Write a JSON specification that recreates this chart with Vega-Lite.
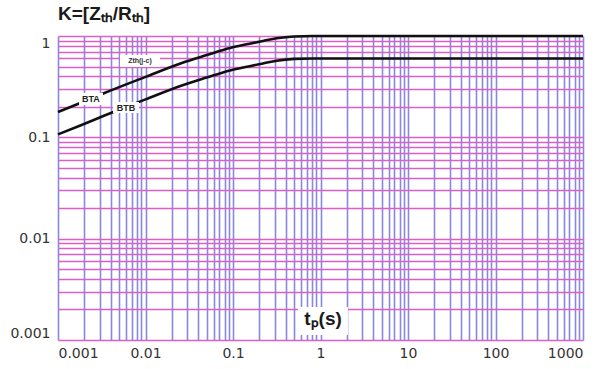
{
  "$schema": "https://vega.github.io/schema/vega-lite/v6.json",
  "width": 525,
  "height": 304,
  "autosize": {"type": "none"},
  "padding": {"left": 58, "top": 36, "right": 12, "bottom": 29},
  "background": "white",
  "config": {"view": {"stroke": null}, "font": "Liberation Sans"},
  "title": {
    "text": "K=[Zₜₕ/Rₜₕ]",
    "anchor": "start",
    "frame": "group",
    "fontSize": 19,
    "fontWeight": "bold",
    "font": "Liberation Sans",
    "color": "#1a1a1a",
    "offset": 7
  },
  "datasets": {
    "curves": [
      {"series": "BTA", "t": 0.001, "K": 0.178},
      {"series": "BTA", "t": 0.0018, "K": 0.218},
      {"series": "BTA", "t": 0.0034, "K": 0.274},
      {"series": "BTA", "t": 0.01, "K": 0.395},
      {"series": "BTA", "t": 0.026, "K": 0.542},
      {"series": "BTA", "t": 0.05, "K": 0.648},
      {"series": "BTA", "t": 0.0925, "K": 0.762},
      {"series": "BTA", "t": 0.15, "K": 0.835},
      {"series": "BTA", "t": 0.22, "K": 0.893},
      {"series": "BTA", "t": 0.316, "K": 0.95},
      {"series": "BTA", "t": 0.5, "K": 0.99},
      {"series": "BTA", "t": 0.8, "K": 1.0},
      {"series": "BTA", "t": 1000, "K": 1.0},
      {"series": "BTB", "t": 0.001, "K": 0.107},
      {"series": "BTB", "t": 0.0018, "K": 0.131},
      {"series": "BTB", "t": 0.0034, "K": 0.164},
      {"series": "BTB", "t": 0.01, "K": 0.237},
      {"series": "BTB", "t": 0.026, "K": 0.325},
      {"series": "BTB", "t": 0.05, "K": 0.389},
      {"series": "BTB", "t": 0.0925, "K": 0.457},
      {"series": "BTB", "t": 0.15, "K": 0.501},
      {"series": "BTB", "t": 0.22, "K": 0.536},
      {"series": "BTB", "t": 0.316, "K": 0.57},
      {"series": "BTB", "t": 0.5, "K": 0.594},
      {"series": "BTB", "t": 0.8, "K": 0.6},
      {"series": "BTB", "t": 1000, "K": 0.6}
    ],
    "boxes": [
      {"name": "BTA", "t1": 0.00174, "t2": 0.00327, "k1": 0.2085, "k2": 0.274},
      {"name": "BTB", "t1": 0.00425, "t2": 0.00843, "k1": 0.174, "k2": 0.2233},
      {"name": "Zth", "t1": 0.00511, "t2": 0.01465, "k1": 0.494, "k2": 0.649},
      {"name": "tp", "t1": 0.553, "t2": 2.06, "k1": 0.00112, "k2": 0.00212}
    ],
    "small": [
      {"label": "BTA", "t": 0.00238, "K": 0.239},
      {"label": "BTB", "t": 0.00598, "K": 0.195}
    ],
    "tiny": [
      {"label": "Zth(j-c)", "t": 0.00865, "K": 0.566}
    ],
    "big": [
      {"label": "tₚ(s)", "t": 1.07, "K": 0.00162}
    ]
  },
  "layer": [
    {
      "data": {"name": "curves"},
      "mark": {"type": "line", "interpolate": "monotone", "strokeWidth": 2.6, "color": "#111111"},
      "encoding": {
        "x": {
          "field": "t",
          "type": "quantitative",
          "scale": {"type": "log", "domain": [0.001, 1000], "nice": false},
          "axis": {
            "title": null,
            "values": [0.001,0.002,0.003,0.004,0.005,0.006,0.007,0.008,0.009,0.01,0.02,0.03,0.04,0.05,0.06,0.07,0.08,0.09,0.1,0.2,0.3,0.4,0.5,0.6,0.7,0.8,0.9,1,2,3,4,5,6,7,8,9,10,20,30,40,50,60,70,80,90,100,200,300,400,500,600,700,800,900,1000],
            "labelExpr": "abs(log(datum.value)/LN10 - round(log(datum.value)/LN10)) < 0.001 ? format(datum.value, '~g') : ''",
            "grid": true,
            "gridColor": "#8a88dc",
            "gridWidth": 1.6,
            "ticks": false,
            "domain": false,
            "labelFlush": true,
            "labelOverlap": false,
            "labelPadding": 6,
            "labelFontSize": 14,
            "labelFont": "DejaVu Sans",
            "labelColor": "#333333"
          }
        },
        "y": {
          "field": "K",
          "type": "quantitative",
          "scale": {"type": "log", "domain": [0.001, 1], "nice": false},
          "axis": {
            "title": null,
            "values": [0.001,0.002,0.003,0.004,0.005,0.006,0.007,0.008,0.009,0.01,0.02,0.03,0.04,0.05,0.06,0.07,0.08,0.09,0.1,0.2,0.3,0.4,0.5,0.6,0.7,0.8,0.9,1],
            "labelExpr": "abs(log(datum.value)/LN10 - round(log(datum.value)/LN10)) < 0.001 ? format(datum.value, '~g') : ''",
            "grid": true,
            "gridColor": "#dc5ec8",
            "gridWidth": 1.6,
            "ticks": false,
            "domain": false,
            "labelFlush": true,
            "labelOverlap": false,
            "labelPadding": 8,
            "labelFontSize": 14,
            "labelFont": "DejaVu Sans",
            "labelColor": "#333333"
          }
        },
        "detail": {"field": "series"}
      }
    },
    {
      "data": {"name": "boxes"},
      "mark": {"type": "rect", "color": "white", "opacity": 1},
      "encoding": {
        "x": {"field": "t1", "type": "quantitative", "scale": {"type": "log"}},
        "x2": {"field": "t2"},
        "y": {"field": "k1", "type": "quantitative", "scale": {"type": "log"}},
        "y2": {"field": "k2"}
      }
    },
    {
      "data": {"name": "small"},
      "mark": {"type": "text", "fontSize": 9, "fontWeight": "bold", "color": "#222222"},
      "encoding": {
        "x": {"field": "t", "type": "quantitative", "scale": {"type": "log"}},
        "y": {"field": "K", "type": "quantitative", "scale": {"type": "log"}},
        "text": {"field": "label"}
      }
    },
    {
      "data": {"name": "tiny"},
      "mark": {"type": "text", "fontSize": 7, "fontWeight": "bold", "color": "#333333"},
      "encoding": {
        "x": {"field": "t", "type": "quantitative", "scale": {"type": "log"}},
        "y": {"field": "K", "type": "quantitative", "scale": {"type": "log"}},
        "text": {"field": "label"}
      }
    },
    {
      "data": {"name": "big"},
      "mark": {"type": "text", "fontSize": 19, "fontWeight": "bold", "color": "#1a1a1a"},
      "encoding": {
        "x": {"field": "t", "type": "quantitative", "scale": {"type": "log"}},
        "y": {"field": "K", "type": "quantitative", "scale": {"type": "log"}},
        "text": {"field": "label"}
      }
    }
  ]
}
